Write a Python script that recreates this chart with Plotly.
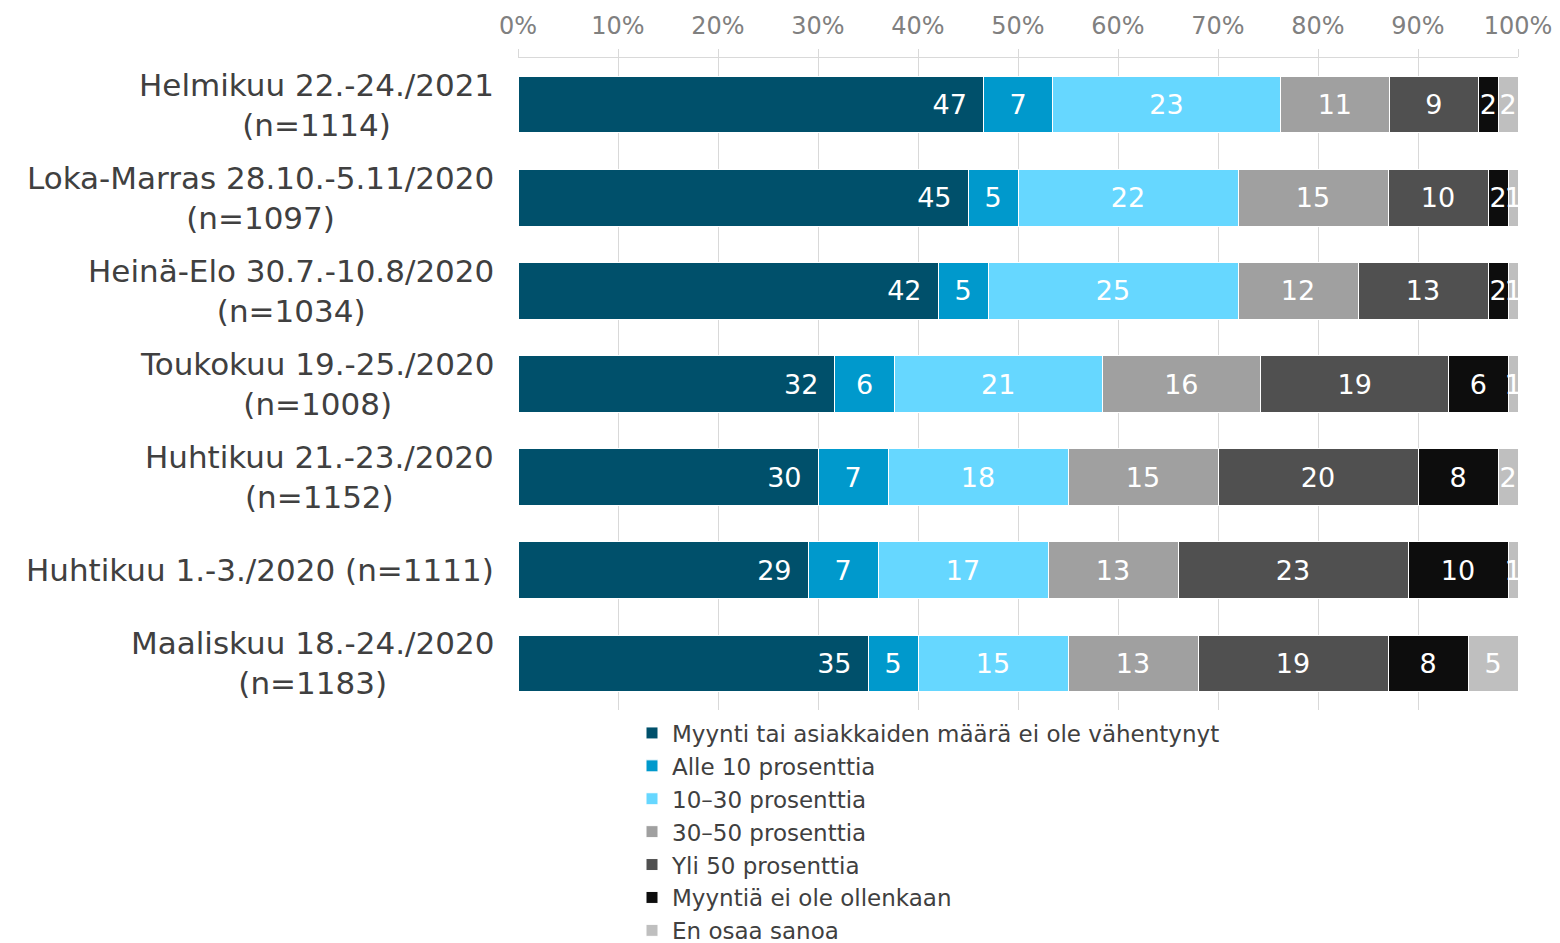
import plotly.graph_objects as go

categories = [
    "Helmikuu 22.-24./2021<br>(n=1114)",
    "Loka-Marras 28.10.-5.11/2020<br>(n=1097)",
    "Heinä-Elo 30.7.-10.8/2020<br>(n=1034)",
    "Toukokuu 19.-25./2020<br>(n=1008)",
    "Huhtikuu 21.-23./2020<br>(n=1152)",
    "Huhtikuu 1.-3./2020 (n=1111)",
    "Maaliskuu 18.-24./2020<br>(n=1183)",
]

series_names = [
    "Myynti tai asiakkaiden määrä ei ole vähentynyt",
    "Alle 10 prosenttia",
    "10–30 prosenttia",
    "30–50 prosenttia",
    "Yli 50 prosenttia",
    "Myyntiä ei ole ollenkaan",
    "En osaa sanoa",
]

ei_vahentynyt = [47, 45, 42, 32, 30, 29, 35]
alle_10 = [7, 5, 5, 6, 7, 7, 5]
p10_30 = [23, 22, 25, 21, 18, 17, 15]
p30_50 = [11, 15, 12, 16, 15, 13, 13]
yli_50 = [9, 10, 13, 19, 20, 23, 19]
ei_ollenkaan = [2, 2, 2, 6, 8, 10, 8]
en_osaa = [2, 1, 1, 1, 2, 1, 5]

series_values = [ei_vahentynyt, alle_10, p10_30, p30_50, yli_50, ei_ollenkaan, en_osaa]
colors = ["#00506B", "#0099CC", "#66D7FF", "#A0A0A0", "#505050", "#0D0D0D", "#BFBFBF"]

tick_vals = [0, 10, 20, 30, 40, 50, 60, 70, 80, 90, 100]
tick_text = [f"{v}%" for v in tick_vals]

FONT = "DejaVu Sans"

fig = go.Figure()
for i, (name, vals, col) in enumerate(zip(series_names, series_values, colors)):
    first = i == 0
    fig.add_trace(go.Bar(
        y=categories, x=vals, name=name, orientation="h",
        marker=dict(color=col, line=dict(color="white", width=1)),
        text=vals,
        texttemplate="%{text}\u2002" if first else "%{text}",
        textposition="inside",
        insidetextanchor="end" if first else "middle",
        textfont=dict(color="white", size=27, family=FONT),
        hoverinfo="skip",
    ))

for cat in categories:
    fig.add_annotation(
        x=0, xref="paper", y=cat, yref="y", xanchor="right", xshift=-22,
        text=cat, showarrow=False, align="center",
        font=dict(size=31, color="#404040", family=FONT),
    )

fig.update_layout(
    barmode="stack", barnorm="percent", bargap=0.39,
    width=1552, height=935,
    margin=dict(l=510, r=42, t=50, b=233, autoexpand=False),
    plot_bgcolor="white", paper_bgcolor="white",
    font=dict(family=FONT),
    uniformtext=dict(minsize=27, mode="show"),
    legend=dict(
        x=0.114, y=0.2476, xanchor="left", yanchor="top",
        xref="paper", yref="container",
        font=dict(size=23, color="#404040", family=FONT),
        traceorder="normal", tracegroupgap=0,
        bgcolor="rgba(0,0,0,0)",
    ),
    showlegend=True,
)
fig.update_xaxes(
    side="top", range=[0, 100], tickvals=tick_vals, ticktext=tick_text,
    showgrid=True, gridcolor="#D9D9D9", gridwidth=1, zeroline=False,
    showline=True, linecolor="#D9D9D9", linewidth=1,
    ticks="outside", ticklen=8, tickcolor="#D9D9D9",
    tickfont=dict(size=24, color="#808080", family=FONT),
    ticklabelstandoff=5, fixedrange=True, automargin=False,
)
fig.update_yaxes(
    categoryorder="array", categoryarray=categories, autorange="reversed",
    showticklabels=False, showgrid=False, zeroline=False, showline=False,
    automargin=False,
)

fig.write_html("out.html")
